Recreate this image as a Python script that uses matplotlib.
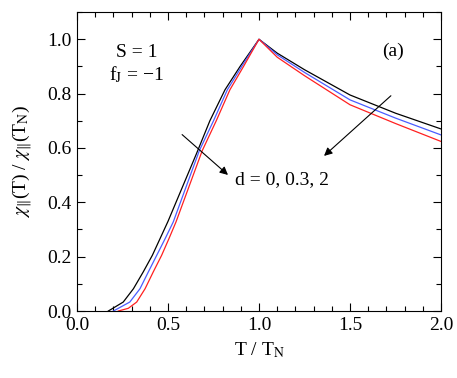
import matplotlib.pyplot as plt
from matplotlib.ticker import MultipleLocator

plt.rcParams['font.family'] = ['Liberation Serif', 'DejaVu Serif']
plt.rcParams['mathtext.fontset'] = 'stix'

# Reduced temperature T / T_N
t_black = [0.172, 0.254, 0.31, 0.364, 0.414, 0.456, 0.50, 0.657, 0.73, 0.813, 0.896, 1.0,
           1.1, 1.25, 1.5, 1.75, 2.0]
t_blue = [0.20, 0.29, 0.346, 0.392, 0.438, 0.484, 0.529, 0.672, 0.75, 0.826, 0.905, 1.0,
          1.1, 1.25, 1.5, 1.75, 2.0]
t_red = [0.227, 0.282, 0.328, 0.374, 0.419, 0.465, 0.505, 0.544, 0.688, 0.765, 0.84, 0.915, 1.0,
         1.1, 1.25, 1.5, 1.75, 2.0]

# chi_par(T) / chi_par(T_N) for d = 0, 0.3, 2
chi_black = [0.0, 0.033, 0.082, 0.144, 0.205, 0.266, 0.33, 0.58, 0.70, 0.814, 0.9, 1.0,
             0.949, 0.888, 0.795, 0.728, 0.67]
chi_blue = [0.0, 0.033, 0.082, 0.144, 0.205, 0.266, 0.328, 0.59, 0.70, 0.814, 0.9, 1.0,
            0.943, 0.878, 0.777, 0.71, 0.648]
chi_red = [0.0, 0.01, 0.033, 0.082, 0.144, 0.205, 0.266, 0.328, 0.59, 0.70, 0.814, 0.9, 1.0,
           0.934, 0.866, 0.759, 0.69, 0.624]

fig = plt.figure(figsize=(4.57, 3.78), dpi=100)
ax = fig.add_axes([0.1685, 0.1772, 0.7965, 0.7908])

ax.plot(t_black, chi_black, color='black', lw=0.9)
ax.plot(t_blue, chi_blue, color='#4a5cff', lw=0.9)
ax.plot(t_red, chi_red, color='#ff2020', lw=0.9)

ax.set_xlim(0, 2.0)
ax.set_ylim(0, 1.1)
ax.xaxis.set_major_locator(MultipleLocator(0.5))
ax.xaxis.set_minor_locator(MultipleLocator(0.1))
ax.yaxis.set_major_locator(MultipleLocator(0.2))
ax.yaxis.set_minor_locator(MultipleLocator(0.1))
ax.xaxis.set_major_formatter(plt.FuncFormatter(lambda v, p: f"{v:.1f}"))
ax.yaxis.set_major_formatter(plt.FuncFormatter(lambda v, p: f"{v:.1f}"))
ax.tick_params(which='both', direction='in', top=True, right=True, labelsize=14)
ax.tick_params(which='major', length=6, width=0.8, pad=4)
ax.tick_params(which='minor', length=3.5, width=0.8)
for s in ax.spines.values():
    s.set_linewidth(0.8)

ax.set_xlabel(r"T / T$_{\mathrm{N}}$", fontsize=14, labelpad=5)
ax.set_ylabel(r"$\chi_{\Vert}$(T) / $\chi_{\Vert}$(T$_{\mathrm{N}}$)", fontsize=14, labelpad=9)

ax.text(0.33, 0.95, "S = 1", fontsize=14, ha='center', va='center')
ax.text(0.33, 0.87, "f$_{\\mathrm{J}}$ = \u22121", fontsize=14, ha='center', va='center')
ax.text(1.736, 0.954, "(a)", fontsize=14, ha='center', va='center')
ax.text(0.868, 0.482, "d = 0, 0.3, 2", fontsize=14, ha='left', va='center')

arrow = dict(arrowstyle='-|>', color='black', lw=0.8, mutation_scale=12)
ax.annotate("", xy=(0.841, 0.494), xytext=(0.566, 0.656), arrowprops=arrow)
ax.annotate("", xy=(1.346, 0.564), xytext=(1.736, 0.799), arrowprops=arrow)

fig.savefig("out.png", dpi=100)
